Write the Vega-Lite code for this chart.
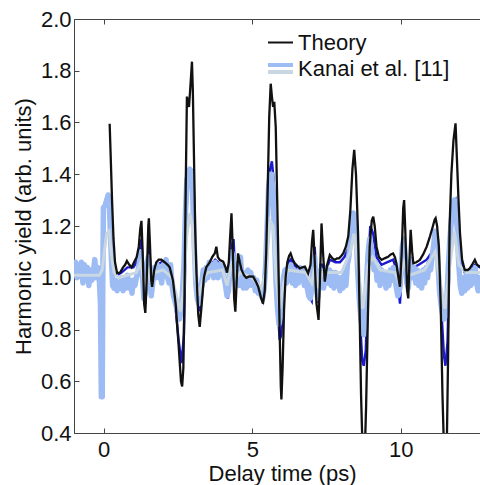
{
  "$schema": "https://vega.github.io/schema/vega-lite/v6.json",
  "width": 416,
  "height": 414,
  "autosize": {"type": "none"},
  "padding": {"left": 74, "top": 19, "right": 0, "bottom": 52},
  "background": "white",
  "config": {
    "view": {"stroke": "#444", "strokeWidth": 1},
    "axis": {
      "labelFont": "Liberation Sans", "titleFont": "Liberation Sans",
      "labelFontSize": 22, "titleFontSize": 22, "titleFontWeight": "normal",
      "labelColor": "#111", "titleColor": "#111",
      "domainColor": "#444", "tickColor": "#444", "grid": false, "tickSize": -5
    }
  },
  "datasets": {
    "theory": [
      {"t":0.2,"y":1.595},{"t":0.24,"y":1.45},{"t":0.28,"y":1.3},{"t":0.33,"y":1.15},{"t":0.38,"y":1.06},{"t":0.45,"y":1.018},{"t":0.55,"y":1.02},{"t":0.65,"y":1.04},{"t":0.72,"y":1.05},{"t":0.78,"y":1.065},{"t":0.86,"y":1.05},{"t":0.94,"y":1.04},{"t":1.02,"y":1.06},{"t":1.11,"y":1.08},{"t":1.18,"y":1.12},{"t":1.23,"y":1.19},{"t":1.27,"y":1.22},{"t":1.31,"y":1.1},{"t":1.36,"y":0.9},{"t":1.4,"y":0.864},{"t":1.45,"y":1.0},{"t":1.5,"y":1.2},{"t":1.52,"y":1.23},{"t":1.56,"y":1.12},{"t":1.6,"y":0.99},{"t":1.63,"y":0.965},{"t":1.7,"y":1.03},{"t":1.77,"y":1.06},{"t":1.85,"y":1.07},{"t":1.94,"y":1.07},{"t":2.05,"y":1.06},{"t":2.15,"y":1.05},{"t":2.22,"y":1.04},{"t":2.33,"y":0.99},{"t":2.42,"y":0.9},{"t":2.52,"y":0.74},{"t":2.6,"y":0.6},{"t":2.64,"y":0.58},{"t":2.68,"y":0.65},{"t":2.72,"y":0.95},{"t":2.76,"y":1.35},{"t":2.8,"y":1.7},{"t":2.85,"y":1.67},{"t":2.87,"y":1.66},{"t":2.9,"y":1.71},{"t":2.94,"y":1.78},{"t":2.97,"y":1.835},{"t":3.0,"y":1.72},{"t":3.04,"y":1.45},{"t":3.08,"y":1.18},{"t":3.12,"y":1.02},{"t":3.18,"y":0.86},{"t":3.23,"y":0.81},{"t":3.3,"y":0.9},{"t":3.37,"y":1.0},{"t":3.45,"y":1.04},{"t":3.57,"y":1.06},{"t":3.65,"y":1.08},{"t":3.74,"y":1.095},{"t":3.79,"y":1.12},{"t":3.84,"y":1.08},{"t":3.91,"y":1.068},{"t":4.02,"y":1.062},{"t":4.1,"y":1.04},{"t":4.15,"y":1.02},{"t":4.21,"y":1.06},{"t":4.26,"y":1.17},{"t":4.3,"y":1.249},{"t":4.34,"y":1.12},{"t":4.39,"y":0.92},{"t":4.43,"y":0.869},{"t":4.48,"y":1.0},{"t":4.52,"y":1.094},{"t":4.58,"y":1.06},{"t":4.64,"y":1.03},{"t":4.72,"y":1.01},{"t":4.8,"y":1.0},{"t":4.9,"y":1.005},{"t":5.03,"y":1.004},{"t":5.12,"y":0.985},{"t":5.2,"y":0.965},{"t":5.3,"y":0.92},{"t":5.36,"y":0.9},{"t":5.42,"y":0.95},{"t":5.47,"y":1.1},{"t":5.52,"y":1.35},{"t":5.57,"y":1.62},{"t":5.62,"y":1.75},{"t":5.66,"y":1.7},{"t":5.7,"y":1.66},{"t":5.74,"y":1.68},{"t":5.79,"y":1.58},{"t":5.83,"y":1.35},{"t":5.87,"y":1.12},{"t":5.92,"y":0.8},{"t":5.96,"y":0.58},{"t":5.98,"y":0.53},{"t":6.02,"y":0.65},{"t":6.07,"y":0.88},{"t":6.12,"y":1.0},{"t":6.18,"y":1.06},{"t":6.24,"y":1.085},{"t":6.29,"y":1.094},{"t":6.36,"y":1.07},{"t":6.43,"y":1.056},{"t":6.52,"y":1.045},{"t":6.6,"y":1.036},{"t":6.68,"y":1.04},{"t":6.77,"y":1.043},{"t":6.88,"y":1.017},{"t":6.96,"y":1.05},{"t":7.01,"y":1.14},{"t":7.05,"y":1.185},{"t":7.1,"y":1.07},{"t":7.16,"y":0.9},{"t":7.23,"y":0.837},{"t":7.28,"y":1.0},{"t":7.33,"y":1.21},{"t":7.38,"y":1.1},{"t":7.44,"y":0.985},{"t":7.52,"y":1.05},{"t":7.61,"y":1.088},{"t":7.7,"y":1.075},{"t":7.78,"y":1.069},{"t":7.85,"y":1.075},{"t":7.92,"y":1.075},{"t":8.0,"y":1.085},{"t":8.06,"y":1.094},{"t":8.15,"y":1.12},{"t":8.23,"y":1.16},{"t":8.3,"y":1.26},{"t":8.37,"y":1.42},{"t":8.43,"y":1.494},{"t":8.49,"y":1.4},{"t":8.56,"y":1.17},{"t":8.61,"y":0.88},{"t":8.66,"y":0.55},{"t":8.72,"y":0.3},{"t":8.78,"y":0.3},{"t":8.83,"y":0.5},{"t":8.89,"y":0.85},{"t":8.95,"y":1.12},{"t":9.02,"y":1.22},{"t":9.07,"y":1.236},{"t":9.12,"y":1.2},{"t":9.18,"y":1.12},{"t":9.26,"y":1.08},{"t":9.35,"y":1.069},{"t":9.45,"y":1.075},{"t":9.57,"y":1.081},{"t":9.66,"y":1.09},{"t":9.74,"y":1.094},{"t":9.8,"y":1.08},{"t":9.85,"y":1.056},{"t":9.92,"y":1.0},{"t":9.97,"y":0.965},{"t":10.03,"y":1.1},{"t":10.08,"y":1.27},{"t":10.11,"y":1.3},{"t":10.15,"y":1.18},{"t":10.21,"y":0.95},{"t":10.25,"y":0.92},{"t":10.3,"y":1.1},{"t":10.33,"y":1.185},{"t":10.38,"y":1.1},{"t":10.42,"y":1.056},{"t":10.52,"y":1.06},{"t":10.64,"y":1.069},{"t":10.75,"y":1.09},{"t":10.87,"y":1.12},{"t":10.98,"y":1.16},{"t":11.08,"y":1.2},{"t":11.14,"y":1.225},{"t":11.17,"y":1.23},{"t":11.22,"y":1.2},{"t":11.28,"y":1.12},{"t":11.34,"y":0.9},{"t":11.4,"y":0.55},{"t":11.46,"y":0.3},{"t":11.54,"y":0.3},{"t":11.59,"y":0.7},{"t":11.64,"y":1.2},{"t":11.7,"y":1.4},{"t":11.77,"y":1.53},{"t":11.84,"y":1.597},{"t":11.89,"y":1.45},{"t":11.94,"y":1.3},{"t":11.99,"y":1.172},{"t":12.06,"y":1.07},{"t":12.15,"y":1.03},{"t":12.25,"y":1.03},{"t":12.32,"y":1.036},{"t":12.42,"y":1.055},{"t":12.49,"y":1.069},{"t":12.56,"y":1.05},{"t":12.66,"y":1.043},{"t":12.8,"y":1.04},{"t":13.0,"y":1.04}
    ],
    "theoryBlue": [
      {"t":0.45,"y":1.01},{"t":0.6,"y":1.02},{"t":0.8,"y":1.04},{"t":1.0,"y":1.04},{"t":1.1,"y":1.06},{"t":1.2,"y":1.1},{"t":1.27,"y":1.15},{"t":1.33,"y":1.0},{"t":1.4,"y":0.9},{"t":1.46,"y":1.0},{"t":1.52,"y":1.13},{"t":1.57,"y":1.05},{"t":1.63,"y":0.96},{"t":1.7,"y":1.02},{"t":1.8,"y":1.05},{"t":1.95,"y":1.06},{"t":2.1,"y":1.05},{"t":2.22,"y":1.03},{"t":2.33,"y":0.97},{"t":2.42,"y":0.88},{"t":2.52,"y":0.76},{"t":2.62,"y":0.67},{"t":2.7,"y":0.78},{"t":2.76,"y":1.15},{"t":2.82,"y":1.35},{"t":2.9,"y":1.4},{"t":2.97,"y":1.42},{"t":3.03,"y":1.35},{"t":3.1,"y":1.05},{"t":3.18,"y":0.9},{"t":3.23,"y":0.87},{"t":3.3,"y":0.92},{"t":3.37,"y":1.0},{"t":3.45,"y":1.03},{"t":3.6,"y":1.05},{"t":3.75,"y":1.07},{"t":3.84,"y":1.06},{"t":3.95,"y":1.05},{"t":4.05,"y":1.03},{"t":4.13,"y":0.94},{"t":4.18,"y":0.92},{"t":4.22,"y":1.0},{"t":4.3,"y":1.12},{"t":4.37,"y":1.15},{"t":4.43,"y":1.0},{"t":4.5,"y":1.05},{"t":4.6,"y":1.02},{"t":4.75,"y":1.0},{"t":4.9,"y":0.99},{"t":5.05,"y":0.99},{"t":5.2,"y":0.95},{"t":5.36,"y":0.91},{"t":5.45,"y":1.0},{"t":5.53,"y":1.2},{"t":5.6,"y":1.42},{"t":5.66,"y":1.45},{"t":5.72,"y":1.38},{"t":5.79,"y":1.15},{"t":5.85,"y":0.9},{"t":5.92,"y":0.76},{"t":5.98,"y":0.78},{"t":6.05,"y":0.95},{"t":6.12,"y":1.02},{"t":6.22,"y":1.06},{"t":6.29,"y":1.07},{"t":6.4,"y":1.05},{"t":6.6,"y":1.03},{"t":6.77,"y":1.03},{"t":6.88,"y":1.0},{"t":6.95,"y":0.92},{"t":7.0,"y":0.91},{"t":7.05,"y":1.05},{"t":7.1,"y":1.12},{"t":7.17,"y":0.98},{"t":7.23,"y":0.9},{"t":7.3,"y":1.05},{"t":7.38,"y":1.05},{"t":7.44,"y":0.97},{"t":7.52,"y":1.04},{"t":7.61,"y":1.07},{"t":7.8,"y":1.06},{"t":7.95,"y":1.06},{"t":8.1,"y":1.08},{"t":8.25,"y":1.12},{"t":8.35,"y":1.2},{"t":8.43,"y":1.24},{"t":8.5,"y":1.15},{"t":8.56,"y":1.05},{"t":8.62,"y":0.85},{"t":8.7,"y":0.68},{"t":8.75,"y":0.66},{"t":8.82,"y":0.72},{"t":8.9,"y":1.05},{"t":8.97,"y":1.2},{"t":9.07,"y":1.17},{"t":9.18,"y":1.08},{"t":9.35,"y":1.05},{"t":9.55,"y":1.06},{"t":9.74,"y":1.07},{"t":9.85,"y":1.03},{"t":9.97,"y":0.9},{"t":10.05,"y":1.05},{"t":10.11,"y":1.15},{"t":10.2,"y":1.05},{"t":10.25,"y":0.95},{"t":10.33,"y":1.08},{"t":10.42,"y":1.04},{"t":10.6,"y":1.05},{"t":10.87,"y":1.07},{"t":11.05,"y":1.1},{"t":11.17,"y":1.18},{"t":11.25,"y":1.12},{"t":11.35,"y":0.9},{"t":11.45,"y":0.7},{"t":11.5,"y":0.66},{"t":11.57,"y":0.75},{"t":11.65,"y":1.15},{"t":11.75,"y":1.28},{"t":11.84,"y":1.3},{"t":11.92,"y":1.2},{"t":12.0,"y":1.08},{"t":12.15,"y":1.02},{"t":12.32,"y":1.03},{"t":12.49,"y":1.05},{"t":12.66,"y":1.04},{"t":13.0,"y":1.04}
    ],
    "kanai": [
      {"t":-1.0,"y":1.03},{"t":-0.95,"y":1.06},{"t":-0.9,"y":1.0},{"t":-0.85,"y":1.05},{"t":-0.8,"y":1.02},{"t":-0.75,"y":1.06},{"t":-0.7,"y":0.98},{"t":-0.65,"y":1.05},{"t":-0.6,"y":1.0},{"t":-0.55,"y":1.04},{"t":-0.5,"y":0.97},{"t":-0.45,"y":1.03},{"t":-0.4,"y":0.99},{"t":-0.35,"y":1.02},{"t":-0.3,"y":1.07},{"t":-0.25,"y":1.0},{"t":-0.2,"y":1.04},{"t":-0.15,"y":1.0},{"t":-0.11,"y":0.9},{"t":-0.08,"y":0.54},{"t":-0.05,"y":0.54},{"t":-0.03,"y":1.0},{"t":-0.01,"y":1.27},{"t":0.05,"y":1.28},{"t":0.1,"y":1.3},{"t":0.15,"y":1.32},{"t":0.19,"y":1.28},{"t":0.25,"y":1.1},{"t":0.3,"y":0.97},{"t":0.35,"y":0.96},{"t":0.4,"y":0.99},{"t":0.45,"y":0.95},{"t":0.5,"y":0.98},{"t":0.55,"y":0.96},{"t":0.6,"y":1.0},{"t":0.65,"y":0.95},{"t":0.7,"y":0.99},{"t":0.75,"y":0.96},{"t":0.8,"y":1.01},{"t":0.85,"y":0.96},{"t":0.9,"y":0.99},{"t":0.95,"y":0.94},{"t":1.0,"y":0.99},{"t":1.05,"y":0.97},{"t":1.1,"y":1.0},{"t":1.15,"y":1.02},{"t":1.2,"y":1.06},{"t":1.25,"y":1.1},{"t":1.3,"y":1.02},{"t":1.35,"y":0.92},{"t":1.4,"y":0.95},{"t":1.45,"y":1.05},{"t":1.5,"y":1.08},{"t":1.55,"y":1.0},{"t":1.6,"y":0.93},{"t":1.65,"y":0.98},{"t":1.7,"y":1.04},{"t":1.75,"y":1.0},{"t":1.8,"y":1.05},{"t":1.85,"y":1.0},{"t":1.9,"y":1.04},{"t":1.95,"y":0.98},{"t":2.0,"y":1.05},{"t":2.05,"y":1.02},{"t":2.1,"y":1.07},{"t":2.15,"y":1.0},{"t":2.2,"y":0.98},{"t":2.25,"y":1.05},{"t":2.3,"y":0.97},{"t":2.35,"y":0.93},{"t":2.42,"y":0.9},{"t":2.5,"y":0.86},{"t":2.55,"y":0.84},{"t":2.62,"y":0.88},{"t":2.7,"y":1.05},{"t":2.75,"y":1.25},{"t":2.8,"y":1.38},{"t":2.85,"y":1.4},{"t":2.9,"y":1.42},{"t":2.95,"y":1.4},{"t":3.0,"y":1.3},{"t":3.05,"y":1.12},{"t":3.1,"y":0.98},{"t":3.15,"y":0.92},{"t":3.2,"y":0.9},{"t":3.25,"y":0.93},{"t":3.3,"y":0.98},{"t":3.35,"y":1.03},{"t":3.4,"y":0.99},{"t":3.45,"y":1.04},{"t":3.5,"y":1.0},{"t":3.55,"y":1.06},{"t":3.6,"y":1.02},{"t":3.65,"y":1.05},{"t":3.7,"y":1.0},{"t":3.75,"y":1.06},{"t":3.8,"y":1.03},{"t":3.85,"y":1.0},{"t":3.9,"y":1.05},{"t":3.95,"y":1.02},{"t":4.0,"y":1.04},{"t":4.05,"y":1.0},{"t":4.1,"y":0.97},{"t":4.15,"y":0.93},{"t":4.2,"y":0.95},{"t":4.25,"y":1.03},{"t":4.3,"y":1.1},{"t":4.35,"y":1.08},{"t":4.4,"y":1.02},{"t":4.45,"y":0.98},{"t":4.5,"y":1.03},{"t":4.55,"y":0.97},{"t":4.6,"y":1.08},{"t":4.65,"y":1.0},{"t":4.7,"y":0.96},{"t":4.75,"y":1.02},{"t":4.8,"y":0.96},{"t":4.85,"y":1.03},{"t":4.9,"y":0.97},{"t":4.95,"y":1.02},{"t":5.0,"y":0.97},{"t":5.05,"y":1.0},{"t":5.1,"y":0.95},{"t":5.15,"y":0.99},{"t":5.2,"y":0.94},{"t":5.25,"y":0.96},{"t":5.3,"y":0.93},{"t":5.35,"y":0.92},{"t":5.4,"y":0.96},{"t":5.45,"y":1.05},{"t":5.5,"y":1.2},{"t":5.55,"y":1.35},{"t":5.6,"y":1.4},{"t":5.65,"y":1.4},{"t":5.7,"y":1.32},{"t":5.75,"y":1.15},{"t":5.8,"y":0.98},{"t":5.85,"y":0.88},{"t":5.9,"y":0.82},{"t":5.95,"y":0.85},{"t":6.0,"y":0.94},{"t":6.05,"y":1.0},{"t":6.1,"y":1.03},{"t":6.15,"y":0.98},{"t":6.2,"y":1.04},{"t":6.25,"y":0.99},{"t":6.3,"y":1.05},{"t":6.35,"y":0.98},{"t":6.4,"y":1.03},{"t":6.45,"y":0.97},{"t":6.5,"y":1.02},{"t":6.55,"y":0.98},{"t":6.6,"y":1.04},{"t":6.65,"y":0.99},{"t":6.7,"y":1.03},{"t":6.75,"y":0.97},{"t":6.8,"y":1.02},{"t":6.85,"y":0.96},{"t":6.9,"y":0.93},{"t":6.95,"y":0.92},{"t":7.0,"y":0.97},{"t":7.05,"y":1.06},{"t":7.1,"y":1.08},{"t":7.15,"y":0.97},{"t":7.2,"y":0.92},{"t":7.25,"y":0.98},{"t":7.3,"y":1.03},{"t":7.35,"y":1.0},{"t":7.4,"y":0.96},{"t":7.45,"y":1.0},{"t":7.5,"y":1.04},{"t":7.55,"y":0.98},{"t":7.6,"y":1.03},{"t":7.65,"y":0.97},{"t":7.7,"y":1.02},{"t":7.75,"y":0.96},{"t":7.8,"y":1.02},{"t":7.85,"y":0.97},{"t":7.9,"y":1.0},{"t":7.95,"y":0.95},{"t":8.0,"y":1.0},{"t":8.05,"y":0.96},{"t":8.1,"y":1.02},{"t":8.15,"y":0.97},{"t":8.2,"y":1.05},{"t":8.25,"y":1.08},{"t":8.3,"y":1.15},{"t":8.35,"y":1.22},{"t":8.4,"y":1.25},{"t":8.45,"y":1.23},{"t":8.5,"y":1.15},{"t":8.55,"y":1.02},{"t":8.6,"y":0.92},{"t":8.65,"y":0.85},{"t":8.7,"y":0.8},{"t":8.75,"y":0.78},{"t":8.8,"y":0.85},{"t":8.85,"y":1.0},{"t":8.9,"y":1.1},{"t":8.95,"y":1.15},{"t":9.0,"y":1.12},{"t":9.05,"y":1.08},{"t":9.1,"y":1.03},{"t":9.15,"y":1.06},{"t":9.2,"y":0.99},{"t":9.25,"y":1.04},{"t":9.3,"y":0.97},{"t":9.35,"y":1.03},{"t":9.4,"y":0.98},{"t":9.45,"y":1.02},{"t":9.5,"y":0.96},{"t":9.55,"y":1.01},{"t":9.6,"y":0.97},{"t":9.65,"y":1.03},{"t":9.7,"y":0.99},{"t":9.75,"y":1.04},{"t":9.8,"y":1.0},{"t":9.85,"y":0.96},{"t":9.9,"y":0.93},{"t":9.95,"y":0.95},{"t":10.0,"y":1.02},{"t":10.05,"y":1.12},{"t":10.1,"y":1.15},{"t":10.15,"y":1.08},{"t":10.2,"y":0.98},{"t":10.25,"y":0.96},{"t":10.3,"y":1.04},{"t":10.35,"y":1.07},{"t":10.4,"y":1.0},{"t":10.45,"y":1.04},{"t":10.5,"y":0.98},{"t":10.55,"y":1.03},{"t":10.6,"y":0.97},{"t":10.65,"y":1.02},{"t":10.7,"y":0.96},{"t":10.75,"y":1.03},{"t":10.8,"y":0.98},{"t":10.85,"y":1.04},{"t":10.9,"y":1.0},{"t":10.95,"y":1.06},{"t":11.0,"y":1.03},{"t":11.05,"y":1.08},{"t":11.1,"y":1.12},{"t":11.15,"y":1.18},{"t":11.2,"y":1.15},{"t":11.25,"y":1.05},{"t":11.3,"y":0.95},{"t":11.35,"y":0.9},{"t":11.4,"y":0.86},{"t":11.45,"y":0.84},{"t":11.5,"y":0.85},{"t":11.55,"y":0.92},{"t":11.6,"y":1.05},{"t":11.65,"y":1.15},{"t":11.7,"y":1.22},{"t":11.75,"y":1.28},{"t":11.8,"y":1.3},{"t":11.85,"y":1.28},{"t":11.9,"y":1.18},{"t":11.95,"y":1.05},{"t":12.0,"y":0.97},{"t":12.05,"y":0.94},{"t":12.1,"y":1.0},{"t":12.15,"y":0.95},{"t":12.2,"y":1.01},{"t":12.25,"y":0.96},{"t":12.3,"y":1.02},{"t":12.35,"y":0.97},{"t":12.4,"y":1.03},{"t":12.45,"y":0.98},{"t":12.5,"y":1.04},{"t":12.55,"y":0.98},{"t":12.6,"y":0.95},{"t":12.65,"y":1.0},{"t":12.7,"y":0.96},{"t":12.75,"y":1.0},{"t":12.8,"y":1.02},{"t":12.85,"y":0.97},{"t":12.9,"y":1.01},{"t":12.95,"y":0.97},{"t":13.0,"y":1.0}
    ],
    "kanaiSmooth": [
      {"t":-1.0,"y":1.01},{"t":-0.5,"y":1.01},{"t":-0.15,"y":1.01},{"t":-0.05,"y":1.03},{"t":0.02,"y":1.1},{"t":0.1,"y":1.17},{"t":0.18,"y":1.18},{"t":0.25,"y":1.1},{"t":0.35,"y":1.02},{"t":0.5,"y":1.0},{"t":0.8,"y":1.01},{"t":1.1,"y":1.02},{"t":1.25,"y":1.06},{"t":1.35,"y":0.98},{"t":1.42,"y":0.97},{"t":1.52,"y":1.04},{"t":1.6,"y":0.98},{"t":1.7,"y":1.02},{"t":2.0,"y":1.03},{"t":2.3,"y":1.0},{"t":2.45,"y":0.93},{"t":2.58,"y":0.87},{"t":2.68,"y":0.95},{"t":2.78,"y":1.15},{"t":2.9,"y":1.25},{"t":2.98,"y":1.2},{"t":3.08,"y":1.0},{"t":3.2,"y":0.93},{"t":3.35,"y":1.0},{"t":3.5,"y":1.02},{"t":4.0,"y":1.03},{"t":4.15,"y":0.97},{"t":4.3,"y":1.05},{"t":4.45,"y":1.0},{"t":4.6,"y":1.02},{"t":5.0,"y":1.0},{"t":5.3,"y":0.96},{"t":5.45,"y":1.02},{"t":5.6,"y":1.22},{"t":5.7,"y":1.2},{"t":5.8,"y":1.0},{"t":5.92,"y":0.88},{"t":6.05,"y":0.98},{"t":6.2,"y":1.03},{"t":6.8,"y":1.02},{"t":7.0,"y":0.98},{"t":7.1,"y":1.04},{"t":7.22,"y":0.96},{"t":7.35,"y":1.02},{"t":8.0,"y":1.02},{"t":8.3,"y":1.1},{"t":8.42,"y":1.17},{"t":8.55,"y":1.05},{"t":8.72,"y":0.88},{"t":8.9,"y":1.05},{"t":9.05,"y":1.08},{"t":9.3,"y":1.03},{"t":9.8,"y":1.02},{"t":9.95,"y":0.98},{"t":10.1,"y":1.06},{"t":10.3,"y":1.01},{"t":10.8,"y":1.03},{"t":11.15,"y":1.1},{"t":11.3,"y":1.0},{"t":11.48,"y":0.88},{"t":11.65,"y":1.05},{"t":11.8,"y":1.18},{"t":11.95,"y":1.05},{"t":12.2,"y":1.02},{"t":13.0,"y":1.02}
    ]
  },
  "layer": [
    {
      "data": {"name": "theoryBlue"},
      "mark": {"type": "line", "strokeWidth": 2.4, "clip": true},
      "encoding": {
        "x": {"field": "t", "type": "quantitative", "scale": {"domain": [-1, 13], "nice": false, "zero": false},
              "axis": {"values": [0, 5, 10], "title": "Delay time (ps)", "labelPadding": 11, "titlePadding": 3}},
        "y": {"field": "y", "type": "quantitative", "scale": {"domain": [0.4, 2.0], "nice": false, "zero": false},
              "axis": {"values": [0.4, 0.6, 0.8, 1.0, 1.2, 1.4, 1.6, 1.8, 2.0], "format": ".1f", "title": "Harmonic yield (arb. units)", "labelPadding": 8, "titlePadding": 5}},
        "color": {
          "datum": "Theory blue", "type": "nominal",
          "scale": {"domain": ["Theory", "Kanai et al. [11]", "Kanai smoothed", "Theory blue"], "range": ["#111111", "#9dbcf4", "#c9d7e2", "#1a1ad0"]},
          "legend": {
            "values": ["Theory", "Kanai et al. [11]"],
            "orient": "none", "legendX": 194, "legendY": 11, "title": null, "padding": 0,
            "labelFont": "Liberation Sans", "labelFontSize": 22, "labelColor": "#111", "labelOffset": 5,
            "rowPadding": 2, "symbolSize": 625,
            "encode": {
              "symbols": {
                "update": {
                  "shape": [{"test": "datum.value === 'Theory'", "value": "M-1,-0.08H1V0.08H-1Z"}, {"value": "M-1,-0.44H1V-0.12H-1Z M-1,0.12H1V0.44H-1Z"}],
                  "fill": [{"test": "datum.value === 'Theory'", "value": "#111111"}, {"value": {"gradient": "linear", "x1": 0, "y1": 0, "x2": 0, "y2": 1, "stops": [{"offset": 0, "color": "#9dbcf4"}, {"offset": 0.5, "color": "#9dbcf4"}, {"offset": 0.5, "color": "#c9d7e2"}, {"offset": 1, "color": "#c9d7e2"}]}}],
                  "fillOpacity": {"value": 1},
                  "opacity": {"value": 1},
                  "strokeWidth": {"value": 0},
                  "size": {"value": 625}
                }
              }
            }
          }
        }
      }
    },
    {
      "data": {"name": "kanai"},
      "mark": {"type": "line", "strokeWidth": 5.5, "clip": true, "strokeJoin": "round"},
      "encoding": {
        "x": {"field": "t", "type": "quantitative", "axis": null},
        "y": {"field": "y", "type": "quantitative"},
        "color": {"datum": "Kanai et al. [11]", "type": "nominal"}
      }
    },
    {
      "data": {"name": "kanaiSmooth"},
      "mark": {"type": "line", "strokeWidth": 3, "clip": true},
      "encoding": {
        "x": {"field": "t", "type": "quantitative", "axis": null},
        "y": {"field": "y", "type": "quantitative"},
        "color": {"datum": "Kanai smoothed", "type": "nominal"}
      }
    },
    {
      "data": {"name": "theory"},
      "mark": {"type": "line", "strokeWidth": 2.3, "clip": true},
      "encoding": {
        "x": {"field": "t", "type": "quantitative", "axis": {"orient": "top", "values": [0, 5, 10], "labels": false, "title": null, "domain": false}},
        "y": {"field": "y", "type": "quantitative"},
        "color": {"datum": "Theory", "type": "nominal"}
      }
    }
  ],
  "resolve": {"axis": {"x": "independent"}}
}
